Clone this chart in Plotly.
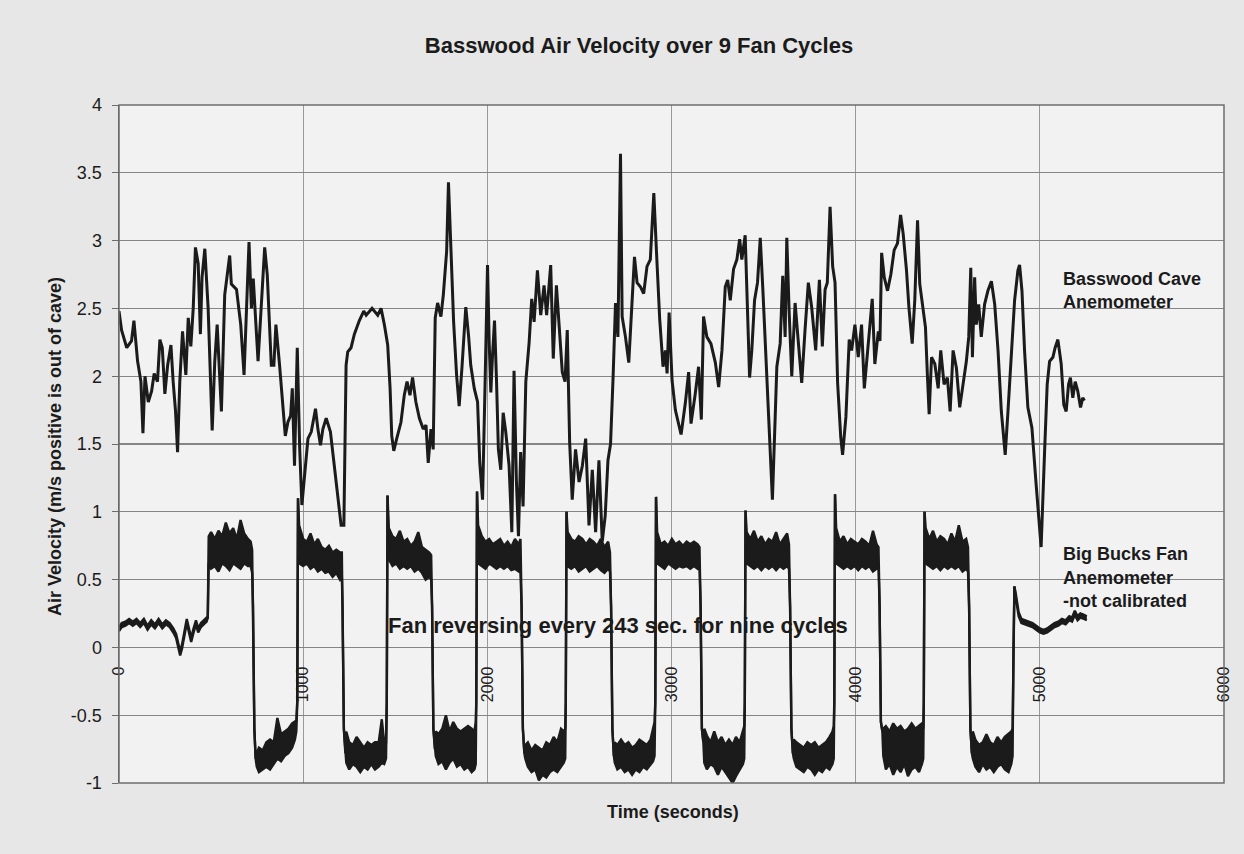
import plotly.graph_objects as go

# ---------------- data ----------------
x_tick_values = [0, 1000, 2000, 3000, 4000, 5000, 6000]
x_tick_labels = ["0", "1000", "2000", "3000", "4000", "5000", "6000"]
y_tick_values = [-1, -0.5, 0, 0.5, 1, 1.5, 2, 2.5, 3, 3.5, 4]
y_tick_labels = ["-1", "-0.5", "0", "0.5", "1", "1.5", "2", "2.5", "3", "3.5", "4"]

# Basswood Cave anemometer (time s, velocity m/s)
basswood_time = [
    0, 14, 42, 68, 81, 101, 119, 130, 141, 159,
    177, 191, 209, 222, 235, 249, 264, 282, 294, 307,
    318, 330, 345, 363, 376, 390, 403, 415, 430, 442,
    451, 466, 484, 506, 520, 533, 556, 574, 601, 610,
    638, 661, 679, 692, 706, 719, 729, 755, 773, 791,
    805, 827, 841, 852, 872, 903, 917, 932, 941, 953,
    968, 981, 993, 1026, 1044, 1067, 1080, 1094, 1107, 1125,
    1148, 1170, 1188, 1206, 1221, 1233, 1242, 1260, 1278, 1305,
    1329,
    1342, 1374, 1405, 1423, 1441, 1459, 1472, 1481, 1492, 1508,
    1531, 1549, 1564, 1580, 1594, 1612, 1631, 1652, 1667, 1679,
    1694, 1706, 1717, 1730, 1748, 1761, 1779, 1789, 1802, 1817,
    1833, 1847, 1862, 1883, 1898, 1910, 1929, 1947, 1959, 1974,
    1988, 2001, 2010, 2019, 2028, 2039, 2050, 2060, 2073, 2086,
    2100, 2118, 2133, 2145, 2158, 2169, 2181, 2194, 2209, 2227,
    2241, 2254, 2272, 2290, 2308, 2322, 2344, 2358, 2375, 2389,
    2407, 2422, 2434, 2447, 2461, 2479, 2498, 2516, 2534, 2552,
    2570, 2588, 2606, 2624, 2640, 2655,
    2669, 2683, 2696, 2709, 2723, 2732, 2750, 2768, 2781, 2799,
    2813, 2831, 2849, 2867, 2885, 2904, 2918, 2936, 2954, 2967,
    2976, 2987, 3003, 3021, 3052, 3075, 3093, 3106, 3129, 3147,
    3162, 3174, 3192, 3214, 3238, 3256, 3274, 3292, 3305, 3319,
    3337, 3355, 3370, 3382, 3400, 3413, 3424, 3436, 3451, 3467,
    3482, 3496, 3514, 3529, 3548, 3563, 3572, 3590, 3604, 3617,
    3626, 3639, 3653, 3671, 3689, 3707, 3725, 3743, 3761, 3783,
    3803, 3819, 3834, 3846, 3861, 3875, 3888, 3902, 3919, 3929,
    3947, 3965,
    3978, 3996, 4014, 4032, 4047, 4065, 4083, 4090, 4104, 4123,
    4132, 4141, 4155, 4173, 4191, 4209, 4227, 4244, 4258, 4276,
    4289, 4307, 4321, 4336, 4348, 4366, 4379, 4390, 4399, 4412,
    4430, 4448, 4462, 4480, 4498, 4513, 4529, 4547, 4565, 4583,
    4601, 4614, 4625, 4634, 4646, 4655, 4668, 4682, 4700, 4718,
    4737, 4755, 4773, 4791, 4812, 4827, 4845, 4863, 4881, 4890,
    4903, 4917, 4935, 4957, 4980, 5007, 5026, 5040, 5053, 5071,
    5083, 5098, 5116, 5130, 5143, 5156, 5166, 5179, 5192, 5206,
    5221, 5233, 5242,
]
basswood_velocity = [
    2.48, 2.34, 2.21, 2.26, 2.41, 2.11, 1.96, 1.58, 2.00, 1.81,
    1.89, 2.02, 1.96, 2.27, 2.21, 1.87, 2.08, 2.23, 1.96, 1.74,
    1.44, 1.96, 2.33, 2.01, 2.43, 2.22, 2.50, 2.95, 2.83, 2.31,
    2.73, 2.94, 2.50, 1.60, 2.11, 2.38, 1.74, 2.60, 2.89, 2.68,
    2.64, 2.38, 2.01, 2.46, 2.99, 2.50, 2.72, 2.11, 2.58, 2.95,
    2.75, 2.08, 2.08, 2.38, 2.08, 1.56, 1.66, 1.71, 1.91, 1.34,
    2.21, 1.47, 1.05, 1.54, 1.59, 1.76, 1.61, 1.49, 1.61, 1.69,
    1.59, 1.32, 1.09, 0.90, 0.90, 2.08, 2.18, 2.21, 2.31, 2.41,
    2.48,
    2.45, 2.50, 2.45, 2.50, 2.38, 2.23, 1.91, 1.56, 1.45, 1.54,
    1.66, 1.86, 1.96, 1.86, 1.99, 1.81, 1.69, 1.61, 1.64, 1.36,
    1.61, 1.46, 2.43, 2.54, 2.44, 2.60, 2.92, 3.43, 2.97, 2.40,
    2.01, 1.78, 2.06, 2.51, 2.30, 2.08, 1.91, 1.81, 1.36, 1.09,
    1.96, 2.82, 2.25, 1.88, 2.15, 2.41, 1.96, 1.46, 1.31, 1.73,
    1.59, 1.34, 0.85, 2.04, 1.22, 0.82, 1.44, 1.04, 1.96, 2.25,
    2.57, 2.40, 2.78, 2.45, 2.67, 2.45, 2.82, 2.13, 2.67, 2.35,
    2.03, 1.96, 2.34, 1.51, 1.09, 1.46, 1.22, 1.34, 1.54, 0.90,
    1.31, 0.85, 1.38, 0.78, 0.97, 1.38,
    1.50, 2.00, 2.54, 2.29, 3.64, 2.44, 2.29, 2.10, 2.44, 2.88,
    2.69, 2.66, 2.61, 2.81, 2.86, 3.35, 2.93, 2.42, 2.07, 2.19,
    2.02, 2.47, 1.97, 1.75, 1.57, 1.80, 2.03, 1.65, 1.87, 2.07,
    1.68, 2.44, 2.29, 2.24, 2.10, 1.92, 2.19, 2.66, 2.71, 2.56,
    2.79, 2.86, 3.01, 2.86, 3.04, 2.37, 1.99, 2.19, 2.56, 2.69,
    3.02, 2.64, 2.07, 1.58, 1.09, 1.70, 2.07, 2.24, 2.74, 2.29,
    3.02, 2.47, 2.00, 2.54, 2.24, 1.95, 2.34, 2.69, 2.51, 2.19,
    2.71, 2.22, 2.64, 2.69, 3.25, 2.81, 2.69, 1.95, 1.55, 1.42,
    1.70, 2.27,
    2.19, 2.38, 2.14, 2.38, 1.91, 2.21, 2.48, 2.57, 2.09, 2.33,
    2.26, 2.91, 2.73, 2.63, 2.75, 2.93, 2.98, 3.19, 3.05, 2.78,
    2.51, 2.24, 2.56, 3.15, 2.68, 2.48, 2.36, 1.99, 1.72, 2.14,
    2.09, 1.91, 2.19, 1.94, 1.99, 1.74, 2.19, 2.06, 1.77, 1.94,
    2.11, 2.29, 2.80, 2.14, 2.73, 2.38, 2.53, 2.29, 2.53, 2.63,
    2.70, 2.53, 2.19, 1.74, 1.42, 1.74, 2.19, 2.56, 2.78, 2.82,
    2.63, 2.19, 1.77, 1.62, 1.20, 0.74, 1.45, 1.94, 2.11, 2.14,
    2.21, 2.27, 2.09, 1.79, 1.74, 1.94, 1.99, 1.84, 1.96, 1.89,
    1.77, 1.84, 1.82,
]

# Big Bucks fan anemometer: time, lower and upper edge of the noisy trace
bigbucks_time = [
    0, 15, 35, 55, 75, 95, 115, 135, 155, 175, 195, 215, 235, 255, 275, 295, 310, 322, 332, 342, 355, 368, 380, 392, 405, 418, 430, 445, 460, 476,
    482, 487, 500, 520, 540, 560, 580, 600, 620, 640, 660, 680, 700, 715, 723, 728, 735, 742,
    748, 760, 780, 800, 820, 840, 860, 880, 900, 920, 940, 955, 963, 968,
    972, 978, 1000, 1020, 1040, 1060, 1080, 1100, 1120, 1140, 1160, 1180, 1200, 1210, 1214, 1221, 1229,
    1234, 1250, 1270, 1290, 1310, 1330, 1350, 1370, 1390, 1410, 1427, 1440, 1450, 1454,
    1458, 1465, 1485, 1505, 1525, 1545, 1565, 1585, 1605, 1625, 1645, 1665, 1685, 1695, 1700, 1707, 1715,
    1720, 1735, 1755, 1775, 1795, 1815, 1835, 1855, 1875, 1895, 1915, 1930, 1937, 1940,
    1944, 1950, 1970, 1990, 2010, 2030, 2050, 2070, 2090, 2110, 2130, 2150, 2170, 2180, 2186, 2193, 2201,
    2206, 2220, 2240, 2260, 2280, 2300, 2320, 2340, 2360, 2380, 2400, 2415, 2423, 2426,
    2430, 2436, 2456, 2476, 2496, 2516, 2536, 2556, 2576, 2596, 2616, 2636, 2656, 2666, 2672, 2679, 2687,
    2692, 2706, 2726, 2746, 2766, 2786, 2806, 2826, 2846, 2866, 2886, 2900, 2908, 2912,
    2916, 2922, 2942, 2962, 2982, 3002, 3022, 3042, 3062, 3082, 3102, 3122, 3142, 3152, 3158, 3165, 3173,
    3178, 3192, 3212, 3232, 3252, 3272, 3292, 3312, 3332, 3350, 3370, 3388, 3395, 3398,
    3402, 3408, 3428, 3448, 3468, 3488, 3508, 3528, 3548, 3568, 3588, 3608, 3628, 3638, 3644, 3651, 3659,
    3664, 3678, 3698, 3718, 3738, 3758, 3778, 3798, 3818, 3838, 3858, 3874, 3881, 3884,
    3888, 3894, 3914, 3934, 3954, 3974, 3994, 4014, 4034, 4054, 4074, 4094, 4114, 4124, 4130, 4137, 4145,
    4150, 4164, 4184, 4204, 4224, 4244, 4264, 4284, 4304, 4324, 4344, 4360, 4367, 4370,
    4374, 4380, 4400, 4420, 4440, 4460, 4480, 4500, 4520, 4540, 4560, 4580, 4600, 4610, 4616, 4623, 4631,
    4636, 4650, 4670, 4690, 4710, 4730, 4750, 4770, 4790, 4810, 4830, 4845, 4852,
    4857, 4862, 4870, 4885, 4900, 4920, 4940, 4960, 4980, 5000, 5020, 5040, 5060, 5080, 5100, 5120, 5140, 5160, 5175, 5190, 5205, 5220, 5240, 5255,
]
bigbucks_low = [
    0.12, 0.15, 0.16, 0.18, 0.16, 0.18, 0.15, 0.18, 0.13, 0.17, 0.14, 0.18, 0.14, 0.17, 0.15, 0.11, 0.07, -0.01, -0.06, -0.01, 0.09, 0.18, 0.11, 0.04, 0.11, 0.17, 0.11, 0.15, 0.17, 0.19,
    0.22, 0.62, 0.58, 0.60, 0.56, 0.62, 0.60, 0.57, 0.62, 0.60, 0.58, 0.62, 0.60, 0.60, 0.55, 0.30, -0.60, -0.82,
    -0.88, -0.92, -0.90, -0.88, -0.90, -0.86, -0.82, -0.84, -0.80, -0.78, -0.74, -0.68, -0.62, -0.40,
    1.10, 0.62, 0.60, 0.62, 0.58, 0.60, 0.56, 0.58, 0.55, 0.56, 0.52, 0.55, 0.50, 0.52, 0.30, -0.60, -0.78,
    -0.85, -0.90, -0.86, -0.88, -0.92, -0.88, -0.90, -0.86, -0.90, -0.88, -0.85, -0.86, -0.82, -0.40,
    1.12, 0.65, 0.60, 0.62, 0.58, 0.60, 0.58, 0.60, 0.56, 0.58, 0.55, 0.50, 0.52, 0.50, 0.30, -0.60, -0.75,
    -0.80, -0.86, -0.84, -0.90, -0.85, -0.82, -0.88, -0.86, -0.90, -0.88, -0.92, -0.90, -0.86, -0.40,
    1.15, 0.62, 0.60, 0.58, 0.62, 0.60, 0.58, 0.60, 0.58, 0.60, 0.57, 0.58, 0.56, 0.55, 0.30, -0.60, -0.78,
    -0.82, -0.88, -0.92, -0.90, -0.98, -0.94, -0.96, -0.92, -0.90, -0.92, -0.88, -0.85, -0.82, -0.40,
    1.00, 0.60, 0.58, 0.60, 0.56, 0.58, 0.60, 0.56, 0.58, 0.60, 0.57, 0.55, 0.58, 0.56, 0.30, -0.60, -0.80,
    -0.85, -0.90, -0.88, -0.92, -0.90, -0.94, -0.90, -0.92, -0.88, -0.90, -0.86, -0.84, -0.80, -0.40,
    1.11, 0.62, 0.60, 0.58, 0.62, 0.60, 0.58, 0.60, 0.59, 0.60, 0.58, 0.60, 0.58, 0.60, 0.30, -0.60, -0.70,
    -0.85, -0.90, -0.86, -0.88, -0.94, -0.88, -0.92, -0.96, -1.00, -0.95, -0.90, -0.86, -0.82, -0.40,
    1.01, 0.62, 0.60, 0.58, 0.60, 0.57, 0.60, 0.58, 0.60, 0.57, 0.60, 0.58, 0.60, 0.58, 0.30, -0.60, -0.78,
    -0.82, -0.88, -0.90, -0.92, -0.88, -0.90, -0.94, -0.90, -0.92, -0.88, -0.90, -0.86, -0.82, -0.40,
    1.13, 0.62, 0.60, 0.58, 0.60, 0.58, 0.60, 0.57, 0.60, 0.58, 0.60, 0.56, 0.58, 0.60, 0.30, -0.55, -0.62,
    -0.80, -0.90, -0.86, -0.94, -0.88, -0.92, -0.86, -0.95, -0.90, -0.88, -0.92, -0.86, -0.82, -0.40,
    1.00, 0.62, 0.60, 0.58, 0.60, 0.57, 0.60, 0.58, 0.60, 0.58, 0.60, 0.56, 0.58, 0.56, 0.30, -0.60, -0.78,
    -0.82, -0.88, -0.92, -0.86, -0.90, -0.88, -0.92, -0.88, -0.86, -0.90, -0.92, -0.86, -0.80,
    0.00, 0.45, 0.36, 0.23, 0.18, 0.17, 0.16, 0.15, 0.13, 0.11, 0.10, 0.11, 0.13, 0.15, 0.16, 0.18, 0.17, 0.20, 0.19, 0.24, 0.20, 0.22, 0.21, 0.20,
]
bigbucks_high = [
    0.15, 0.18, 0.19, 0.21, 0.19, 0.21, 0.18, 0.21, 0.16, 0.20, 0.17, 0.21, 0.17, 0.20, 0.18, 0.14, 0.10, 0.02, -0.03, 0.02, 0.12, 0.21, 0.14, 0.07, 0.14, 0.20, 0.14, 0.18, 0.20, 0.22,
    0.22, 0.82, 0.85, 0.80, 0.86, 0.82, 0.92, 0.84, 0.88, 0.80, 0.94, 0.84, 0.80, 0.78, 0.72, 0.30, -0.60, -0.82,
    -0.78, -0.74, -0.76, -0.70, -0.68, -0.70, -0.52, -0.64, -0.62, -0.60, -0.56, -0.55, -0.54, -0.40,
    1.10, 0.90, 0.80, 0.78, 0.84, 0.76, 0.80, 0.74, 0.72, 0.75, 0.70, 0.72, 0.70, 0.70, 0.30, -0.60, -0.78,
    -0.62, -0.70, -0.72, -0.66, -0.70, -0.74, -0.70, -0.72, -0.70, -0.70, -0.53, -0.70, -0.70, -0.40,
    1.12, 0.88, 0.82, 0.80, 0.86, 0.78, 0.80, 0.75, 0.78, 0.85, 0.74, 0.72, 0.70, 0.68, 0.30, -0.60, -0.75,
    -0.62, -0.64, -0.60, -0.50, -0.62, -0.55, -0.60, -0.62, -0.60, -0.58, -0.60, -0.62, -0.55, -0.40,
    1.15, 0.90, 0.82, 0.78, 0.80, 0.76, 0.78, 0.80, 0.75, 0.78, 0.74, 0.80, 0.76, 0.80, 0.30, -0.60, -0.78,
    -0.72, -0.70, -0.76, -0.72, -0.74, -0.76, -0.70, -0.72, -0.66, -0.70, -0.60, -0.62, -0.60, -0.40,
    1.00, 0.85, 0.80, 0.78, 0.82, 0.80, 0.76, 0.80, 0.78, 0.75, 0.80, 0.74, 0.78, 0.70, 0.30, -0.60, -0.80,
    -0.70, -0.72, -0.68, -0.72, -0.70, -0.74, -0.72, -0.68, -0.70, -0.72, -0.68, -0.60, -0.55, -0.40,
    1.11, 0.85, 0.76, 0.78, 0.75, 0.80, 0.76, 0.78, 0.75, 0.78, 0.76, 0.78, 0.76, 0.74, 0.30, -0.60, -0.70,
    -0.60, -0.65, -0.70, -0.62, -0.70, -0.66, -0.72, -0.68, -0.72, -0.66, -0.70, -0.62, -0.58, -0.40,
    1.01, 0.85, 0.80, 0.86, 0.78, 0.82, 0.76, 0.80, 0.78, 0.85, 0.76, 0.80, 0.84, 0.76, 0.30, -0.60, -0.78,
    -0.68, -0.70, -0.72, -0.74, -0.70, -0.72, -0.70, -0.74, -0.72, -0.70, -0.66, -0.62, -0.58, -0.40,
    1.13, 0.88, 0.78, 0.82, 0.76, 0.80, 0.78, 0.76, 0.80, 0.78, 0.75, 0.86, 0.76, 0.74, 0.30, -0.55, -0.62,
    -0.60, -0.58, -0.62, -0.56, -0.60, -0.58, -0.62, -0.60, -0.56, -0.60, -0.58, -0.56, -0.60, -0.40,
    1.00, 0.88, 0.80, 0.86, 0.78, 0.82, 0.80, 0.76, 0.84, 0.78, 0.90, 0.78, 0.80, 0.74, 0.30, -0.60, -0.78,
    -0.62, -0.68, -0.72, -0.70, -0.64, -0.70, -0.72, -0.66, -0.70, -0.66, -0.64, -0.62, -0.60,
    0.00, 0.45, 0.39, 0.26, 0.21, 0.20, 0.19, 0.18, 0.16, 0.14, 0.13, 0.14, 0.16, 0.18, 0.19, 0.21, 0.20, 0.23, 0.22, 0.27, 0.23, 0.25, 0.24, 0.23,
]

# ---------------- styling ----------------
FONT = "Liberation Sans, Arial, sans-serif"
INK = "#1b1b1b"
PAPER = "#e7e7e7"

fig = go.Figure()
fig.add_trace(go.Scatter(x=bigbucks_time, y=bigbucks_low, mode="lines",
                         line=dict(color=INK, width=2.4), hoverinfo="skip",
                         showlegend=False))
fig.add_trace(go.Scatter(x=bigbucks_time, y=bigbucks_high, mode="lines",
                         line=dict(color=INK, width=2.4), fill="tonexty",
                         fillcolor=INK, name="Big Bucks Fan Anemometer",
                         showlegend=False))
fig.add_trace(go.Scatter(x=basswood_time, y=basswood_velocity, mode="lines",
                         line=dict(color=INK, width=3),
                         name="Basswood Cave Anemometer", showlegend=False))

fig.update_layout(
    width=1244, height=854,
    margin=dict(l=119, r=17, t=105, b=71, pad=0),
    paper_bgcolor=PAPER,
    plot_bgcolor="#f2f2f2",
    showlegend=False,
    font=dict(family=FONT, color=INK),
    title=dict(text="<b>Basswood Air Velocity over 9 Fan Cycles</b>",
               xref="container", x=639 / 1244, xanchor="center",
               yref="container", y=1 - 45 / 854, yanchor="middle",
               font=dict(family=FONT, size=22, color=INK)),
    xaxis=dict(range=[0, 6000], tickvals=x_tick_values, ticktext=x_tick_labels,
               tickangle=-90, anchor="free", position=0.2,
               showgrid=True, gridcolor="#9a9a9a", gridwidth=1,
               zeroline=False, showline=False, ticks="",
               tickfont=dict(family=FONT, size=16, color=INK),
               ticklabelstandoff=15),
    yaxis=dict(range=[-1, 4], tickvals=y_tick_values, ticktext=y_tick_labels,
               ticks="outside", ticklen=6, tickcolor="#6d6d6d", tickwidth=1,
               showgrid=True, gridcolor="#858585", gridwidth=1.2,
               zeroline=False, showline=True, linecolor="#5a5a5a", linewidth=1.5,
               tickfont=dict(family=FONT, size=18, color=INK),
               ticklabelstandoff=6),
)

fig.add_shape(type="rect", xref="x domain", yref="y domain", x0=0, x1=1, y0=0, y1=1,
              line=dict(color="#6e6e6e", width=1.5), layer="above")

def label(text, x, y, xref="x", yref="y", size=18, xanchor="left", angle=0):
    fig.add_annotation(text=text, x=x, y=y, xref=xref, yref=yref, showarrow=False,
                       xanchor=xanchor, yanchor="middle", textangle=angle,
                       font=dict(family=FONT, size=size, color=INK))

label("<b>Air Velocity (m/s positive is out of cave)</b>", -0.0578, 0.4956,
      xref="paper", yref="paper", xanchor="center", angle=-90)
label("<b>Time (seconds)</b>", 0.501, -0.0428, xref="paper", yref="paper", xanchor="center")
label("<b>Basswood Cave</b>", 5114, 2.72)
label("<b>Anemometer</b>", 5114, 2.55)
label("<b>Big Bucks Fan</b>", 5114, 0.69)
label("<b>Anemometer</b>", 5114, 0.515)
label("<b>-not calibrated</b>", 5114, 0.345)
label("<b>Fan reversing every 243 sec. for nine cycles</b>", 2709, 0.16, size=22, xanchor="center")

fig.write_html(
    "out.html",
    config={"displayModeBar": False, "staticPlot": True},
    post_script="document.body.style.margin='0';document.body.style.background='%s';" % PAPER,
)
